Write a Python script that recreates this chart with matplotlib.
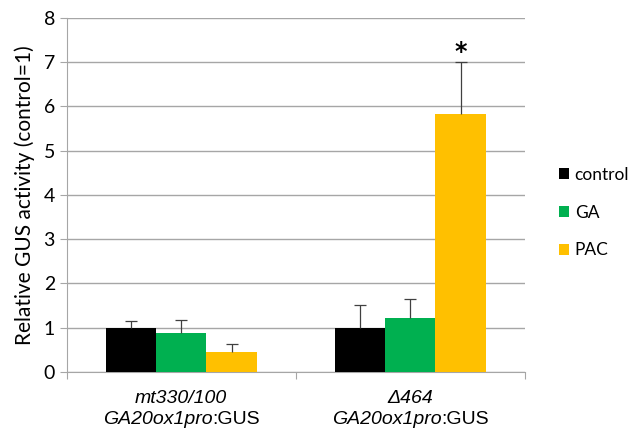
import numpy as np
import matplotlib.pyplot as plt
from matplotlib.offsetbox import TextArea, HPacker, VPacker, AnnotationBbox

# each x label: list of lines, each line a list of (text, italic)
groups = [
    [[('mt330/100', True)], [('GA20ox1pro', True), (':GUS', False)]],
    [[('\u0394464', True)], [('GA20ox1pro', True), (':GUS', False)]],
]
treatments = ['control', 'GA', 'PAC']
colors = ['#000000', '#00b050', '#ffc000']
means = {
    'control': [1.0, 1.0],
    'GA': [0.87, 1.22],
    'PAC': [0.45, 5.82],
}
errors = {
    'control': [0.15, 0.52],
    'GA': [0.30, 0.43],
    'PAC': [0.17, 1.18],
}

fig = plt.figure(figsize=(6.3, 4.36), dpi=100)
ax = fig.add_axes([0.106, 0.147, 0.727, 0.812])

x = np.arange(len(groups))
width = 0.22
for i, t in enumerate(treatments):
    pos = x + (i - 1) * width
    m = np.array(means[t])
    e = np.array(errors[t])
    ax.bar(pos, m, width, color=colors[i], label=t, zorder=3)
    ax.errorbar(pos, m, yerr=[np.zeros(2), e], fmt='none',
                ecolor='#404040', elinewidth=0.9, capsize=0, zorder=4)
    ax.plot(pos, m + e, ls='none', marker='_', ms=8, mew=0.9, color='#404040', zorder=4)

# significance marker above the PAC bar of the second construct
ax.text(x[1] + width, means['PAC'][1] + errors['PAC'][1] - 0.05, '*',
        ha='center', va='bottom', fontsize=17, fontweight='bold')

ax.set_xlim(-0.5, 1.5)
ax.set_ylim(0, 8)
ax.set_yticks(range(0, 9))
ax.yaxis.grid(True, color='#a6a6a6', linewidth=1.0, zorder=0)
ax.set_axisbelow(True)

ax.set_xticks([-0.5, 0.5, 1.5])
ax.set_xticklabels([])
ax.tick_params(axis='x', length=5, color='#a6a6a6')
ax.tick_params(axis='y', length=5, color='#a6a6a6', labelsize=14)
for lab in ax.get_yticklabels():
    lab.set_fontfamily('Lato')

for s in ['top', 'right']:
    ax.spines[s].set_visible(False)
for s in ['left', 'bottom']:
    ax.spines[s].set_color('#a6a6a6')

ax.set_ylabel('Relative GUS activity (control=1)', fontsize=15, fontfamily='Lato',
              labelpad=6)

# mixed italic / upright category labels
for xi, lines in zip(x, groups):
    rows = []
    for line in lines:
        parts = [TextArea(txt, textprops=dict(fontsize=14, family='Liberation Sans',
                                              style='italic' if it else 'normal'))
                 for txt, it in line]
        rows.append(HPacker(children=parts, pad=0, sep=0, align='baseline'))
    box = VPacker(children=rows, pad=0, sep=3, align='center')
    ab = AnnotationBbox(box, (xi, 0), xycoords=('data', 'axes fraction'),
                        xybox=(0, -13), boxcoords='offset points',
                        box_alignment=(0.5, 1.0), frameon=False)
    ax.add_artist(ab)

leg = ax.legend(loc='center left', bbox_to_anchor=(1.052, 0.45), frameon=False,
                handlelength=0.6, handleheight=0.6, handletextpad=0.3,
                labelspacing=1.25, borderaxespad=0.2,
                prop={'family': 'Lato', 'size': 12.5})

fig.savefig('out.png', dpi=100)
